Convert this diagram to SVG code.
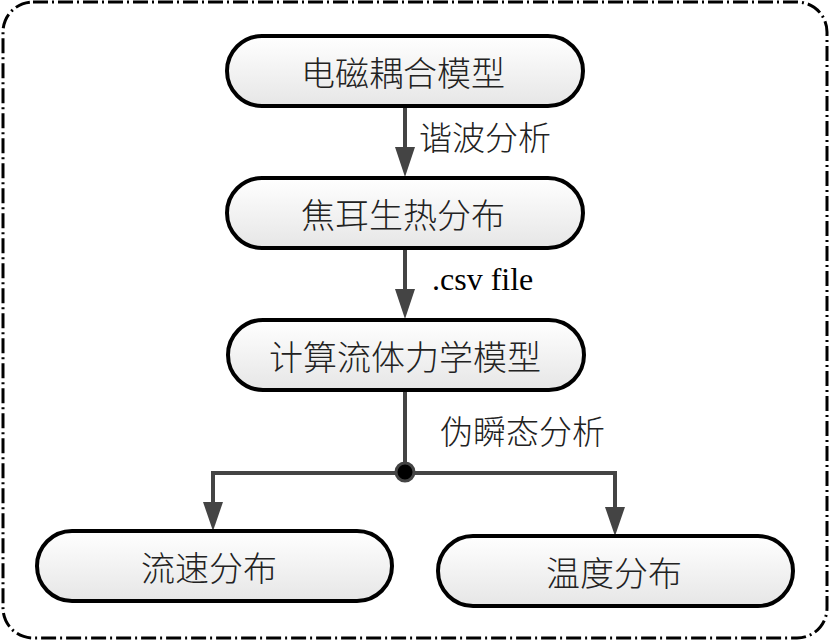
<svg xmlns="http://www.w3.org/2000/svg" width="830" height="642" viewBox="0 0 830 642">
<style>
.node rect{fill:url(#g);stroke:#000;stroke-width:4}
.node text{font-family:"Noto Sans CJK SC","Liberation Sans",sans-serif;font-size:34px;fill:#222;text-anchor:middle;dominant-baseline:central;font-weight:300}
.lbl{font-family:"Noto Sans CJK SC","Liberation Sans",sans-serif;font-size:33px;fill:#222;font-weight:300}
.en{font-family:"Liberation Serif",serif;font-size:32px;fill:#000}
.conn{stroke:#444;stroke-width:4;fill:none}
</style>
<defs>
<linearGradient id="g" x1="0" y1="0" x2="0" y2="1">
<stop offset="0" stop-color="#ffffff"/>
<stop offset="1" stop-color="#e6e6e6"/>
</linearGradient>
</defs>
<rect x="3" y="2" width="824" height="636" rx="30" ry="30" fill="none" stroke="#000" stroke-width="3" stroke-dasharray="15 4 2 4"/>
<g id="connectors">
<line class="conn" x1="405" y1="106" x2="405" y2="147"/>
<path d="M395,147 L415,147 L405,177 Z" fill="#444"/>
<line class="conn" x1="405" y1="248" x2="405" y2="289"/>
<path d="M395,289 L415,289 L405,319 Z" fill="#444"/>
<line class="conn" x1="405" y1="390" x2="405" y2="472"/>
<polyline class="conn" points="213,502 213,473 615,473 615,507"/>
<path d="M203,502 L223,502 L213,531 Z" fill="#444"/>
<path d="M605,507 L625,507 L615,536 Z" fill="#444"/>
<circle cx="405" cy="472" r="9" fill="#000" stroke="#444" stroke-width="3"/>
<text class="lbl" x="419" y="150">谐波分析</text>
<text class="en" x="432" y="290">.csv file</text>
<text class="lbl" x="440" y="444">伪瞬态分析</text>
</g>
<g id="n1" class="node"><rect x="227" y="36" width="356" height="70" rx="35"/><text x="403" y="71">电磁耦合模型</text></g>
<g id="n2" class="node"><rect x="227" y="178" width="356" height="70" rx="35"/><text x="403" y="213">焦耳生热分布</text></g>
<g id="n3" class="node"><rect x="228" y="320" width="356" height="70" rx="35"/><text x="405" y="355">计算流体力学模型</text></g>
<g id="n4" class="node"><rect x="37" y="531" width="355" height="70" rx="35"/><text x="209" y="566">流速分布</text></g>
<g id="n5" class="node"><rect x="438" y="536" width="355" height="70" rx="35"/><text x="614" y="571">温度分布</text></g>
</svg>
